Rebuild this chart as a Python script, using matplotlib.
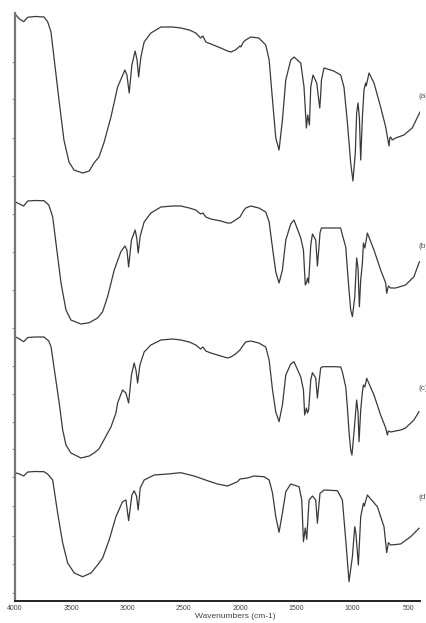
import matplotlib
matplotlib.use("Agg")
import matplotlib.pyplot as plt
import numpy as np

# ---- data (stacked spectra, vertical scale grows downward) ----
wn_a = [4000, 3960, 3923, 3887, 3820, 3742, 3710, 3680, 3654, 3609, 3565, 3520, 3476, 3399, 3340,
        3298, 3254, 3210, 3147, 3088, 3023, 3005, 2985, 2961, 2932, 2915, 2901, 2881, 2852, 2792,
        2703, 2600, 2526, 2450, 2393, 2350, 2330, 2304, 2259, 2171, 2111, 2082, 2040, 2000, 1993,
        1970, 1949, 1904, 1833, 1771, 1741, 1711, 1682, 1653, 1623, 1593, 1549, 1520, 1460, 1431,
        1410, 1398, 1383, 1371, 1351, 1318, 1300, 1291, 1283, 1276, 1253, 1167, 1105, 1076, 1045,
        1016, 996, 975, 963, 951, 939, 927, 912, 898, 888, 883, 878, 853, 809, 750, 705, 685, 676,
        668, 661, 646, 617, 543, 469, 400]
t_a = [14, 19, 21.7, 17.3, 16.5, 17, 21.7, 32, 57, 100, 140, 162, 170, 173, 171,
       163, 157, 143, 117, 87, 70, 75, 93, 65, 51, 60, 77, 57, 42, 33,
       27, 27, 28, 30, 33, 38, 36, 42, 44, 48, 51, 52, 50, 46, 47,
       42, 40, 37, 38, 45, 60, 100, 138, 150, 120, 80, 60, 57, 63, 87,
       128, 115, 125, 87, 75, 83, 100, 108, 95, 80, 68, 71, 75, 87, 123,
       163, 181, 153, 113, 103, 117, 160, 117, 90, 85, 83, 86, 73, 83, 107, 127, 140, 146,
       138, 137, 140, 138, 135, 128, 112]

wn_b = [4000, 3960, 3923, 3887, 3820, 3742, 3700, 3665, 3636, 3591, 3547, 3503, 3414, 3340, 3266,
        3221, 3177, 3118, 3059, 3023, 3005, 2990, 2965, 2932, 2918, 2905, 2887, 2852, 2792, 2703,
        2600, 2526, 2450, 2393, 2350, 2330, 2304, 2259, 2171, 2111, 2082, 2040, 2000, 1970, 1949,
        1904, 1833, 1771, 1741, 1711, 1682, 1653, 1623, 1593, 1549, 1520, 1460, 1436, 1420, 1410,
        1400, 1390, 1371, 1356, 1327, 1312, 1300, 1289, 1276, 1167, 1105, 1090, 1060, 1045, 1031,
        1016, 1001, 980, 963, 951, 939, 927, 912, 903, 890, 868, 809, 750, 705, 696, 681, 661,
        617, 528, 454, 405]
t_b = [201.7, 204, 206, 201, 200.5, 200.7, 205, 216.7, 243, 283, 310, 320, 324, 322.7, 318,
       311.7, 296.7, 270, 251.7, 246, 250, 267, 240, 230, 238, 253, 236, 222, 213, 207,
       206, 206, 208, 210, 214, 213, 217, 219, 221, 223, 223, 220, 217, 211, 208,
       206, 208, 212, 222, 248, 272, 283, 270, 240, 224, 220, 238, 250, 285, 283,
       278, 283, 245, 234, 240, 266, 250, 233, 228, 228, 228, 235, 247, 270, 290,
       310, 316.7, 297, 258, 268, 306.7, 280, 263, 243, 248, 233, 250, 270, 283, 293.3, 286, 288,
       288, 285, 276.7, 261.7]

wn_c = [4000, 3960, 3923, 3887, 3820, 3742, 3700, 3680, 3654, 3607, 3576, 3547, 3503, 3414, 3340,
        3298, 3254, 3210, 3147, 3103, 3088, 3044, 3014, 2990, 2965, 2941, 2925, 2910, 2890, 2852,
        2792, 2703, 2600, 2526, 2450, 2393, 2350, 2330, 2304, 2259, 2171, 2111, 2082, 2040, 2000,
        1970, 1949, 1904, 1833, 1771, 1741, 1711, 1682, 1653, 1623, 1593, 1549, 1520, 1460, 1436,
        1425, 1410, 1400, 1390, 1371, 1356, 1327, 1312, 1300, 1283, 1268, 1167, 1105, 1090, 1060,
        1045, 1031, 1016, 1005, 985, 963, 951, 942, 927, 912, 903, 890, 874, 809, 750, 705, 690,
        681, 661, 617, 572, 528, 454, 409]
t_c = [336.7, 339, 341.7, 337.5, 337, 337, 341, 346.7, 366.7, 403, 430, 445, 453, 458, 456,
       453, 449, 440, 427, 413, 403, 390, 393, 403, 375, 363, 370, 383, 365, 352,
       345, 340, 339, 340, 342, 345, 349, 347, 351, 353, 356, 358, 357, 354, 350,
       345, 342, 341, 343, 347, 360, 390, 412, 421.7, 405, 375, 364, 361.7, 377, 390,
       415, 408, 413, 410, 380, 372.7, 378, 398, 385, 368, 366.7, 366.7, 367, 372, 387,
       408, 432, 450, 455, 430, 400, 412, 441.7, 410, 392, 385, 387, 378.3, 395, 415, 428, 435,
       431, 432, 431, 430, 428, 420, 411.7]

wn_d = [4000, 3960, 3923, 3887, 3820, 3742, 3710, 3665, 3621, 3576, 3532, 3473, 3399, 3325, 3266,
        3221, 3163, 3103, 3044, 3014, 2990, 2961, 2941, 2920, 2905, 2887, 2852, 2763, 2644, 2526,
        2408, 2289, 2200, 2111, 2022, 2000, 1934, 1875, 1786, 1741, 1711, 1682, 1653, 1623, 1593,
        1549, 1475, 1451, 1436, 1420, 1407, 1386, 1356, 1327, 1312, 1289, 1253, 1134, 1090, 1060,
        1031, 1001, 980, 970, 948, 927, 903, 895, 868, 779, 720, 696, 681, 661, 572, 483, 409]
t_d = [472.7, 474, 476, 472, 471.5, 471.7, 474, 480, 513, 543, 563, 573, 576.7, 573, 565,
       558, 540, 516.7, 501.7, 500, 520.7, 495, 490.7, 496, 510, 488, 480, 475, 474, 472.7,
       476, 480.7, 484, 486, 481.7, 479, 478, 476, 476.7, 480, 493, 516.7, 532.3, 513, 491.7,
       484, 486.7, 500, 541.7, 528, 539.3, 500, 496, 500, 523.3, 493.3, 490, 490.7, 500, 540,
       581.7, 556.7, 526.7, 533, 565, 516.7, 503.3, 506, 495, 506.7, 526.7, 552.7, 542.7, 545, 544, 536.7, 528.3]

labels = ["(a)", "(b)", "(c)", "(d)"]
label_pos = [96, 246, 388, 497]
x_ticks = [4000, 3500, 3000, 2500, 2000, 1500, 1000, 500]
y_ticks = [62, 99, 138, 176, 214, 252, 290, 328, 366, 394, 422, 449, 477, 506, 536, 564, 593]

# ---- figure ----
plt.rcParams['font.family'] = ['Liberation Sans', 'DejaVu Sans']
fig = plt.figure(figsize=(4.26, 6.23), dpi=100)
ax = fig.add_axes([15 / 426, 1 - 601 / 623, (420 - 15) / 426, (601 - 13) / 623])

line_color = "#3a3a3a"
for wn, t in [(wn_a, t_a), (wn_b, t_b), (wn_c, t_c), (wn_d, t_d)]:
    ax.plot(wn, t, color=line_color, lw=0.9)

for lab, yp in zip(labels, label_pos):
    ax.text(410, yp, lab, fontsize=6, color="#555555", ha="left", va="center", clip_on=False)

ax.set_xlim(4000, 400)
ax.set_ylim(601, 13)
ax.set_xticks(x_ticks)
ax.set_xticklabels([str(v) for v in x_ticks], fontsize=5, color="#444444")
ax.set_yticks(y_ticks)
ax.set_yticklabels([])
ax.tick_params(axis='x', length=0, pad=3)
ax.tick_params(axis='y', length=2.5, width=0.6, color="#777777", direction='out')
for s in ["top", "right"]:
    ax.spines[s].set_visible(False)
ax.spines["left"].set_color("#777777")
ax.spines["left"].set_linewidth(1.6)
ax.spines["bottom"].set_color("#222222")
ax.spines["bottom"].set_linewidth(1.4)

fig.text(235 / 426, 1 - 617 / 623, "Wavenumbers (cm-1)", fontsize=6, color="#444444",
         ha="center", va="center")

fig.savefig("out.png", dpi=100, facecolor="white")
